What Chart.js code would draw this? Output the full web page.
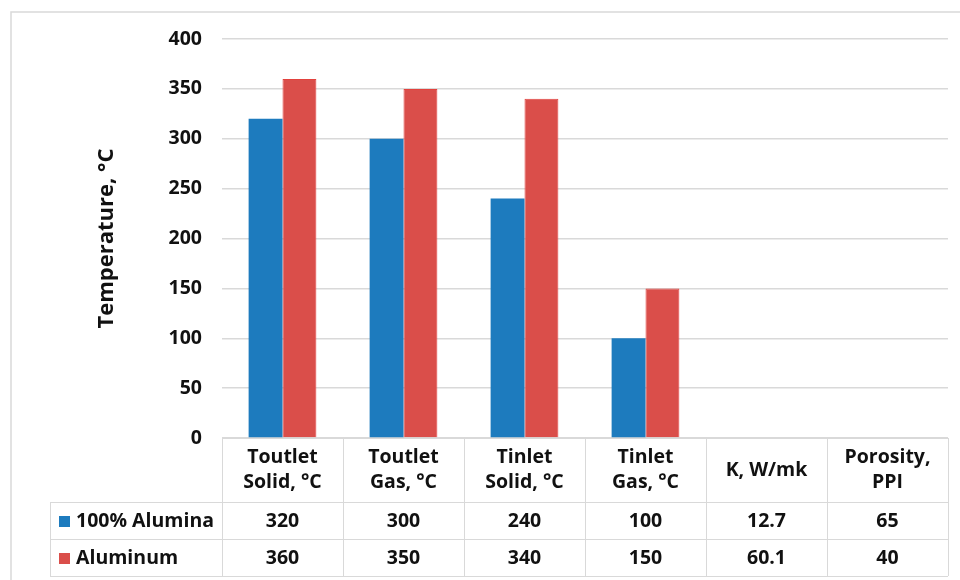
<!DOCTYPE html>
<html>
<head>
<meta charset="utf-8">
<script src="https://cdn.jsdelivr.net/npm/chart.js@4.4.1/dist/chart.umd.min.js"></script>
<style>
  html, body { margin: 0; padding: 0; background: #ffffff; }
  #wrap { width: 960px; height: 580px; position: relative; }
</style>
</head>
<body>
<div id="wrap"><canvas id="chart" width="960" height="580"></canvas></div>
<script>
// Column headings of the data table (one entry per line of text)
const categories = [
  ["Toutlet", "Solid, °C"],
  ["Toutlet", "Gas, °C"],
  ["Tinlet", "Solid, °C"],
  ["Tinlet", "Gas, °C"],
  ["K, W/mk"],
  ["Porosity,", "PPI"]
];
// Only the temperature columns are plotted against the °C axis
const onTemperatureAxis = [true, true, true, true, false, false];

const seriesNames = ["100% Alumina", "Aluminum"];
const aluminaValues = [320, 300, 240, 100, 12.7, 65];
const aluminumValues = [360, 350, 340, 150, 60.1, 40];

const yTicks = [0, 50, 100, 150, 200, 250, 300, 350, 400];
const yTitle = "Temperature, °C";

const BLUE = "#1d7bbe";
const RED = "#da4e4a";
const GRID = "#d9d9d9";
const TEXT = "#111111";
const FONT = "'Open Sans', Lato, sans-serif";
const TEXT_SIZE = 19.5;

const plotted = vals => vals.map((v, i) => (onTemperatureAxis[i] ? v : null));

// Data table under the plot: header row with category names,
// then one row per series with its legend swatch and values.
const dataTablePlugin = {
  id: "dataTable",
  beforeDraw(chart) {
    const ctx = chart.ctx;
    ctx.save();
    ctx.strokeStyle = GRID;
    ctx.lineWidth = 1.5;
    ctx.strokeRect(11, 12, 980, 600);
    ctx.restore();
  },
  afterDraw(chart) {
    const ctx = chart.ctx;
    const x = chart.scales.x;
    const area = chart.chartArea;
    const colW = (area.right - area.left) / categories.length;
    const top = area.bottom;
    const headerBottom = top + 64;
    const rowH = 37;
    const rowsBottom = headerBottom + rowH * seriesNames.length;
    const legendLeft = 50;

    ctx.save();
    ctx.strokeStyle = GRID;
    ctx.lineWidth = 1;
    const hline = (x1, x2, y) => { ctx.beginPath(); ctx.moveTo(x1, y + 0.5); ctx.lineTo(x2, y + 0.5); ctx.stroke(); };
    const vline = (xx, y1, y2) => { ctx.beginPath(); ctx.moveTo(xx + 0.5, y1); ctx.lineTo(xx + 0.5, y2); ctx.stroke(); };

    hline(area.left, area.right, top);
    for (let r = 0; r <= seriesNames.length; r++) hline(legendLeft, area.right, headerBottom + r * rowH);
    vline(legendLeft, headerBottom, rowsBottom);
    for (let c = 0; c <= categories.length; c++) {
      const xx = Math.round(area.left + c * colW);
      vline(xx, top, rowsBottom);
    }

    ctx.fillStyle = TEXT;
    ctx.font = "bold " + TEXT_SIZE + "px " + FONT;
    ctx.textAlign = "center";
    ctx.textBaseline = "middle";
    categories.forEach((lines, i) => {
      const cx = x.getPixelForValue(i);
      const midY = (top + headerBottom) / 2;
      const lh = 25;
      lines.forEach((t, k) => {
        ctx.fillText(t, cx, midY + (k - (lines.length - 1) / 2) * lh);
      });
    });

    const rows = [aluminaValues, aluminumValues];
    const colors = [BLUE, RED];
    rows.forEach((vals, r) => {
      const cy = headerBottom + r * rowH + rowH / 2 + 0.5;
      ctx.fillStyle = colors[r];
      ctx.fillRect(59, Math.round(cy - 5.5), 11, 11);
      ctx.fillStyle = TEXT;
      ctx.textAlign = "left";
      ctx.fillText(seriesNames[r], 76, cy);
      ctx.textAlign = "center";
      vals.forEach((v, i) => ctx.fillText(String(v), x.getPixelForValue(i), cy));
    });
    ctx.restore();
  }
};

new Chart(document.getElementById("chart"), {
  type: "bar",
  data: {
    labels: categories,
    datasets: [
      { label: seriesNames[0], data: plotted(aluminaValues), backgroundColor: BLUE, borderWidth: 0 },
      { label: seriesNames[1], data: plotted(aluminumValues), backgroundColor: RED, borderColor: "#e2423e", borderWidth: 1 }
    ]
  },
  options: {
    responsive: false,
    animation: false,
    devicePixelRatio: 1,
    layout: { padding: { left: 12, top: 39, right: 12, bottom: 142 } },
    datasets: { bar: { categoryPercentage: 0.56, barPercentage: 1.0 } },
    plugins: { legend: { display: false }, tooltip: { enabled: false } },
    scales: {
      x: { display: false },
      y: {
        min: yTicks[0],
        max: yTicks[yTicks.length - 1],
        afterBuildTicks(scale) { scale.ticks = yTicks.map(v => ({ value: v })); },
        afterFit(scale) { scale.width = 210; },
        border: { display: false },
        grid: { color: GRID, lineWidth: 1.5, drawTicks: false },
        ticks: { padding: 20, color: TEXT, font: { family: FONT, size: TEXT_SIZE, weight: "bold" } },
        title: {
          display: true,
          text: yTitle,
          color: TEXT,
          padding: { top: 82, bottom: 0 },
          font: { family: FONT, size: 22, weight: "bold" }
        }
      }
    }
  },
  plugins: [dataTablePlugin]
});
</script>
</body>
</html>
